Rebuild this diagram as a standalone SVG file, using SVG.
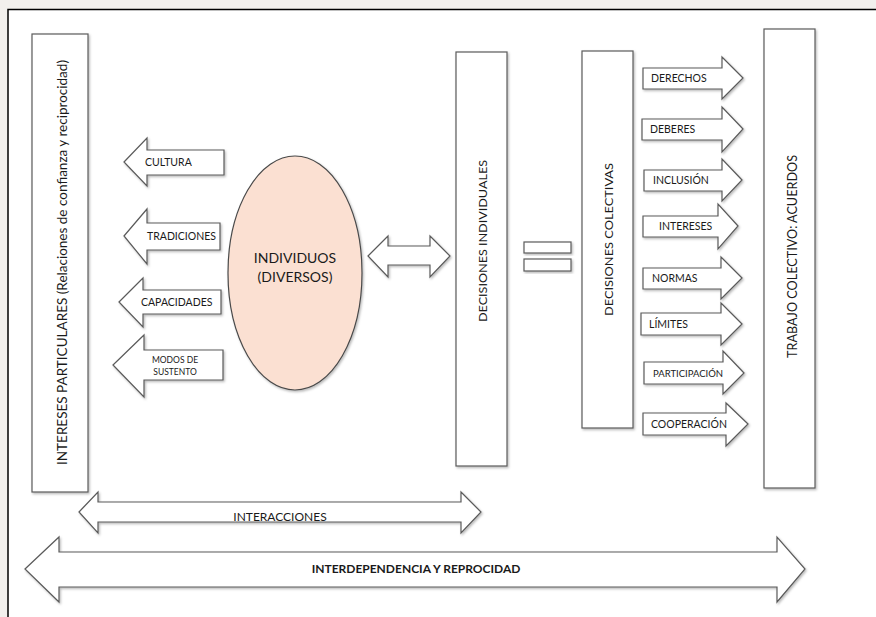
<svg xmlns="http://www.w3.org/2000/svg" width="876" height="617" viewBox="0 0 876 617">
<defs>
<filter id="sh" x="-10%" y="-10%" width="130%" height="130%">
<feDropShadow dx="1.2" dy="1.5" stdDeviation="1" flood-color="#000" flood-opacity="0.28"/>
</filter>
</defs>
<style>
.shape{fill:#ffffff;stroke:#5a5a5a;stroke-width:1.2;filter:url(#sh)}
.ell{fill:#fbe0d2;stroke:#4a4a4a;stroke-width:1.2;filter:url(#sh)}
.t{font-family:Lato,"Open Sans","Liberation Sans",sans-serif;fill:#1a1a1a}
.lbl{font-size:10.5px}
.vt{font-size:13px}
</style>
<rect x="0" y="0" width="876" height="617" fill="#f2f0ed"/>
<rect x="8" y="9.5" width="880" height="620" fill="#ffffff" stroke="#000" stroke-width="1.5"/>

<g id="intereses-particulares">
<rect class="shape" x="32" y="34" width="56" height="458"/>
<text class="t vt" transform="translate(67,465) rotate(-90)" textLength="405" lengthAdjust="spacingAndGlyphs">INTERESES PARTICULARES (Relaciones de confianza y reciprocidad)</text>
</g>

<g id="cultura">
<polygon class="shape" points="124,162 147,138 147,150 224,150 224,175 147,175 147,186"/>
<text class="t lbl" x="145" y="166">CULTURA</text>
</g>
<g id="tradiciones">
<polygon class="shape" points="124,236 147,209 147,223 220,223 220,250 147,250 147,264"/>
<text class="t lbl" x="147" y="240">TRADICIONES</text>
</g>
<g id="capacidades">
<polygon class="shape" points="119,302 143,278 143,290 221,290 221,314 143,314 143,327"/>
<text class="t lbl" x="141" y="306">CAPACIDADES</text>
</g>
<g id="modos-de-sustento">
<polygon class="shape" points="113,365 144,335 144,350 223,350 223,380 144,380 144,397"/>
<text class="t" font-size="8.5" x="175" y="363" text-anchor="middle">MODOS DE</text>
<text class="t" font-size="8.5" x="175" y="375" text-anchor="middle">SUSTENTO</text>
</g>

<g id="individuos">
<ellipse class="ell" cx="295" cy="273" rx="67" ry="117"/>
<text class="t" font-size="14" x="295" y="263" text-anchor="middle">INDIVIDUOS</text>
<text class="t" font-size="14" x="295" y="282" text-anchor="middle">(DIVERSOS)</text>
</g>

<g id="decisiones-individuales">
<rect class="shape" x="456" y="52" width="51" height="414"/>
<text class="t" font-size="12" transform="translate(487,322) rotate(-90)" textLength="162" lengthAdjust="spacingAndGlyphs">DECISIONES INDIVIDUALES</text>
</g>

<g id="igual">
<rect class="shape" x="524" y="242" width="47" height="11"/>
<rect class="shape" x="524" y="259" width="47" height="12"/>
</g>

<g id="decisiones-colectivas">
<rect class="shape" x="582" y="51" width="51" height="377"/>
<text class="t" font-size="12" transform="translate(613,316) rotate(-90)" textLength="153" lengthAdjust="spacingAndGlyphs">DECISIONES COLECTIVAS</text>
</g>

<g id="derechos">
<polygon class="shape" points="743,78 722,57 722,68 643,68 643,89 722,89 722,99"/>
<text class="t lbl" x="651" y="82">DERECHOS</text>
</g>
<g id="deberes">
<polygon class="shape" points="743,129 722,107 722,119 642,119 642,140 722,140 722,152"/>
<text class="t lbl" x="650" y="133">DEBERES</text>
</g>
<g id="inclusion">
<polygon class="shape" points="742,180 722,159 722,170 644,170 644,191 722,191 722,201"/>
<text class="t lbl" x="653" y="184">INCLUSIÓN</text>
</g>
<g id="intereses">
<polygon class="shape" points="738,226 718,204 718,216 643,216 643,237 718,237 718,249"/>
<text class="t lbl" x="659" y="230">INTERESES</text>
</g>
<g id="normas">
<polygon class="shape" points="742,278 721,257 721,268 643,268 643,289 721,289 721,299"/>
<text class="t lbl" x="652" y="282">NORMAS</text>
</g>
<g id="limites">
<polygon class="shape" points="742,324 721,303 721,313 641,313 641,335 721,335 721,345"/>
<text class="t lbl" x="649" y="328">LÍMITES</text>
</g>
<g id="participacion">
<polygon class="shape" points="744,373 723,351 723,362 644,362 644,384 723,384 723,394"/>
<text class="t" font-size="9.5" x="653" y="377">PARTICIPACIÓN</text>
</g>
<g id="cooperacion">
<polygon class="shape" points="748,424 726,403 726,413 643,413 643,435 726,435 726,446"/>
<text class="t lbl" x="651" y="428">COOPERACIÓN</text>
</g>

<g id="trabajo-colectivo">
<rect class="shape" x="764" y="29" width="51" height="459"/>
<text class="t" font-size="13" transform="translate(797,358) rotate(-90)" textLength="203" lengthAdjust="spacingAndGlyphs">TRABAJO COLECTIVO: ACUERDOS</text>
</g>

<g id="connectors">
<polygon class="shape" points="368,256 388,236 388,246 430,246 430,236 450,256 430,277 430,265 388,265 388,277"/>
<g id="interacciones">
<polygon class="shape" points="79,512 98,492 98,502 461,502 461,492 481,512 461,533 461,522 98,522 98,533"/>
<text class="t" font-size="12" x="280" y="521" text-anchor="middle">INTERACCIONES</text>
</g>
<g id="interdependencia">
<polygon class="shape" points="25,569 59,537 59,552 777,552 777,537 805,569 777,602 777,587 59,587 59,602"/>
<text class="t" font-size="12" font-weight="bold" x="416" y="573" text-anchor="middle">INTERDEPENDENCIA Y REPROCIDAD</text>
</g>
</g>
</svg>
